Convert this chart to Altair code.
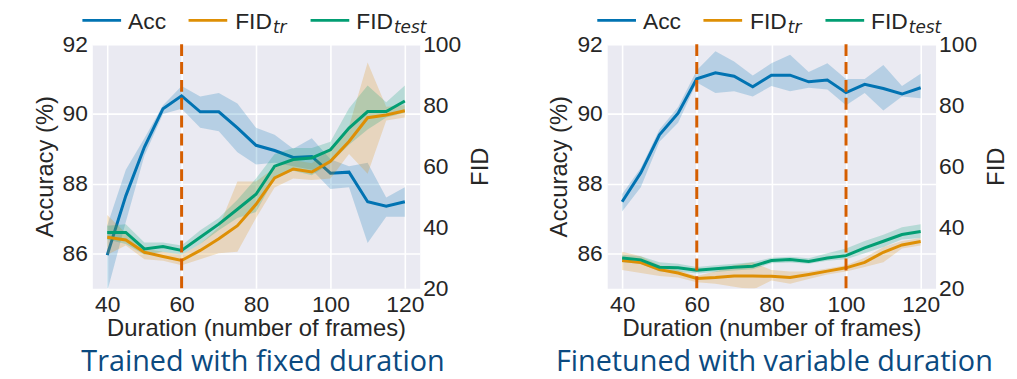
import altair as alt
import pandas as pd

# ---------------- data ----------------
durations = [40, 45, 50, 55, 60, 65, 70, 75, 80, 85, 90, 95, 100, 105, 110, 115, 120]
x_ticks = [40, 60, 80, 100, 120]
acc_ticks = [86, 88, 90, 92]
fid_ticks = [20, 40, 60, 80, 100]

# Panel 1: trained with fixed duration
fixed_acc = [85.95, 87.65, 89.05, 90.15, 90.52, 90.06, 90.06, 89.6, 89.1, 88.95, 88.75, 88.78, 88.3, 88.33, 87.48, 87.35, 87.48]
fixed_acc_lo = [84.9, 86.9, 88.8, 90.0, 90.15, 89.6, 89.5, 88.9, 88.55, 88.6, 88.5, 88.4, 87.85, 87.9, 86.3, 87.05, 87.05]
fixed_acc_hi = [86.8, 88.4, 89.3, 90.25, 90.8, 90.5, 90.6, 90.3, 89.6, 89.4, 89.0, 89.3, 88.7, 88.5, 88.6, 87.6, 87.9]
fixed_tr = [36.7, 35.8, 31.8, 30.4, 29.1, 32.4, 36.2, 40.5, 47.5, 56.2, 59.1, 58.1, 61.6, 68.1, 75.9, 76.8, 78.2]
fixed_tr_lo = [31.0, 34.0, 29.5, 29.0, 27.5, 29.5, 31.5, 32.0, 43.0, 53.0, 56.0, 55.5, 56.0, 64.0, 57.5, 75.0, 76.0]
fixed_tr_hi = [44.0, 38.0, 33.0, 32.0, 31.0, 34.5, 40.0, 55.0, 55.0, 59.5, 62.0, 61.0, 66.0, 73.0, 94.0, 79.5, 80.0]
fixed_te = [38.3, 38.3, 32.9, 33.7, 32.4, 36.7, 41.0, 45.9, 50.8, 60.0, 62.2, 62.7, 65.4, 72.5, 77.9, 77.9, 81.4]
fixed_te_lo = [36.0, 34.5, 31.0, 32.0, 31.0, 34.5, 39.0, 43.0, 45.0, 56.0, 58.5, 57.0, 61.0, 67.0, 72.0, 76.0, 77.5]
fixed_te_hi = [40.5, 41.0, 35.0, 35.0, 34.0, 39.0, 43.0, 49.0, 56.0, 64.0, 66.0, 66.0, 68.0, 79.0, 86.5, 81.0, 86.5]
fixed_markers = [60]

# Panel 2: finetuned with variable duration
var_acc = [87.48, 88.31, 89.40, 90.02, 91.01, 91.18, 91.08, 90.78, 91.11, 91.11, 90.92, 90.97, 90.61, 90.85, 90.73, 90.57, 90.75]
var_acc_lo = [87.2, 87.9, 89.2, 89.75, 90.9, 90.6, 90.65, 90.5, 90.8, 90.65, 90.75, 90.7, 90.25, 90.6, 90.1, 90.5, 90.45]
var_acc_hi = [87.7, 88.45, 89.55, 90.2, 91.25, 91.8, 91.5, 91.1, 91.45, 91.7, 91.2, 91.45, 91.0, 91.0, 91.4, 90.8, 91.15]
var_tr = [29.1, 28.4, 26.1, 25.0, 23.2, 23.5, 24.0, 24.0, 23.9, 23.5, 24.5, 25.6, 26.7, 28.5, 31.8, 34.2, 35.3]
var_tr_lo = [26.0, 25.0, 24.0, 23.5, 22.0, 21.5, 20.5, 19.5, 22.5, 21.5, 23.0, 24.5, 25.5, 27.0, 28.5, 33.0, 34.0]
var_tr_hi = [32.0, 30.5, 27.5, 26.0, 24.0, 25.5, 27.5, 28.5, 26.0, 25.5, 25.5, 26.5, 27.5, 30.0, 33.5, 35.5, 36.5]
var_te = [29.9, 29.3, 26.9, 26.7, 25.9, 26.4, 26.9, 27.2, 29.1, 29.4, 28.8, 29.9, 30.7, 33.2, 35.4, 37.6, 38.6]
var_te_lo = [28.5, 28.0, 25.5, 25.5, 24.8, 25.3, 25.8, 26.2, 28.2, 28.4, 28.0, 29.0, 29.5, 31.5, 33.5, 36.0, 36.5]
var_te_hi = [31.0, 30.5, 28.5, 28.0, 27.0, 27.5, 28.0, 28.5, 30.0, 30.3, 29.8, 31.5, 33.0, 35.5, 37.5, 40.0, 41.0]
var_markers = [60, 100]

subtitles = ["Trained with fixed duration", "Finetuned with variable duration"]
legend_acc = "Acc"
legend_fid = "FID"
legend_subs = ["tr", "test"]

# ---------------- style ----------------
FONT = "Liberation Sans"
INK = "#262626"
BLUE = "#0173B2"
ORANGE = "#DE8F05"
GREEN = "#029E73"
VERM = "#D55E00"
NAVY = "#0b4a80"
W, H = 330, 246

one = pd.DataFrame({"k": [0]})


def txt(s, x, y, size=23, font=FONT, style="normal", color=INK, align="left"):
    return alt.Chart(one).mark_text(
        align=align, baseline="alphabetic", font=font, fontSize=size,
        fontStyle=style, color=color
    ).encode(x=alt.value(x), y=alt.value(y), text=alt.value(s))


def hline(x0, x1, y, color):
    return alt.Chart(one).mark_rule(color=color, strokeWidth=3).encode(
        x=alt.value(x0), x2=alt.value(x1), y=alt.value(y))


def panel(acc, acc_lo, acc_hi, tr, tr_lo, tr_hi, te, te_lo, te_hi, markers, subtitle, w, anchor, sub_dx):
    acc_df = pd.DataFrame({"Duration": durations, "Acc": acc, "lo": acc_lo, "hi": acc_hi})
    tr_df = pd.DataFrame({"Duration": durations, "FID": tr, "lo": tr_lo, "hi": tr_hi})
    te_df = pd.DataFrame({"Duration": durations, "FID": te, "lo": te_lo, "hi": te_hi})
    mk_df = pd.DataFrame({"Duration": markers})

    xenc = alt.X("Duration:Q", scale=alt.Scale(domain=[36, 124], nice=False, zero=False),
                 axis=alt.Axis(values=x_ticks, title="Duration (number of frames)", grid=True,
                               format="d", labelPadding=5, titlePadding=1))
    acc_scale = alt.Scale(domain=[85, 92], nice=False, zero=False)
    acc_axis = alt.Axis(orient="left", values=acc_ticks, title="Accuracy (%)", grid=True,
                        labelPadding=5, titlePadding=5)
    fid_scale = alt.Scale(domain=[20, 100], nice=False, zero=False)
    fid_axis = alt.Axis(orient="right", values=fid_ticks, title="FID", grid=False,
                        labelPadding=3, titlePadding=8, titleAngle=270, titleBaseline="top")

    acc_band = alt.Chart(acc_df).mark_area(color=BLUE, opacity=0.22, clip=True).encode(
        x=xenc, y=alt.Y("lo:Q", scale=acc_scale, axis=acc_axis), y2="hi:Q")
    acc_line = alt.Chart(acc_df).mark_line(color=BLUE, strokeWidth=3, clip=True).encode(
        x=xenc, y=alt.Y("Acc:Q", scale=acc_scale, axis=acc_axis))
    acc_layer = alt.layer(acc_band, acc_line)

    fid_parts = []
    for df, col in ((tr_df, ORANGE), (te_df, GREEN)):
        fid_parts.append(alt.Chart(df).mark_area(color=col, opacity=0.22, clip=True).encode(
            x=xenc, y=alt.Y("lo:Q", scale=fid_scale, axis=fid_axis), y2="hi:Q"))
    for df, col in ((tr_df, ORANGE), (te_df, GREEN)):
        fid_parts.append(alt.Chart(df).mark_line(color=col, strokeWidth=3, clip=True).encode(
            x=xenc, y=alt.Y("FID:Q", scale=fid_scale, axis=fid_axis)))
    fid_layer = alt.layer(*fid_parts)

    rules = alt.Chart(mk_df).mark_rule(color=VERM, strokeWidth=3, strokeDash=[12, 6]).encode(x=xenc)

    legend = [
        hline(-10, 29, -24, BLUE), txt(legend_acc, 36, -15),
        hline(97, 136, -24, ORANGE), txt(legend_fid, 144, -15),
        txt(legend_subs[0], 182, -11, size=17, font="DejaVu Sans", style="italic"),
        hline(220, 259, -24, GREEN), txt(legend_fid, 266, -15),
        txt(legend_subs[1], 304, -11, size=17, font="DejaVu Sans", style="italic"),
        txt(subtitle, w / 2 + sub_dx, H + 83, size=29, font="Open Sans", color=NAVY, align="center"),
    ]
    extra = []
    if anchor:
        extra.append(alt.Chart(one).mark_rule(opacity=0).encode(
            x=alt.value(-84), x2=alt.value(-83), y=alt.value(-34)))

    return alt.layer(acc_layer, fid_layer, rules, *legend, *extra).resolve_scale(
        y="independent").properties(width=w, height=H)


left = panel(fixed_acc, fixed_acc_lo, fixed_acc_hi, fixed_tr, fixed_tr_lo, fixed_tr_hi,
             fixed_te, fixed_te_lo, fixed_te_hi, fixed_markers, subtitles[0], 330, True, 7)
right = panel(var_acc, var_acc_lo, var_acc_hi, var_tr, var_tr_lo, var_tr_hi,
              var_te, var_te_lo, var_te_hi, var_markers, subtitles[1], 331, False, 3)

chart = alt.HConcatChart(hconcat=[left, right], spacing=189, bounds="flush").properties(
    padding=0
).configure_view(
    fill="#EAEAF2", stroke="transparent"
).configure_axis(
    labelFont=FONT, labelFontSize=23, labelColor=INK,
    titleFont=FONT, titleFontSize=24, titleColor=INK, titleFontWeight="normal",
    domain=False, ticks=False, tickSize=0,
    gridColor="white", gridWidth=1.6, gridOpacity=1,
)

chart.save("out.html", embed_options={"renderer": "svg", "actions": False})
